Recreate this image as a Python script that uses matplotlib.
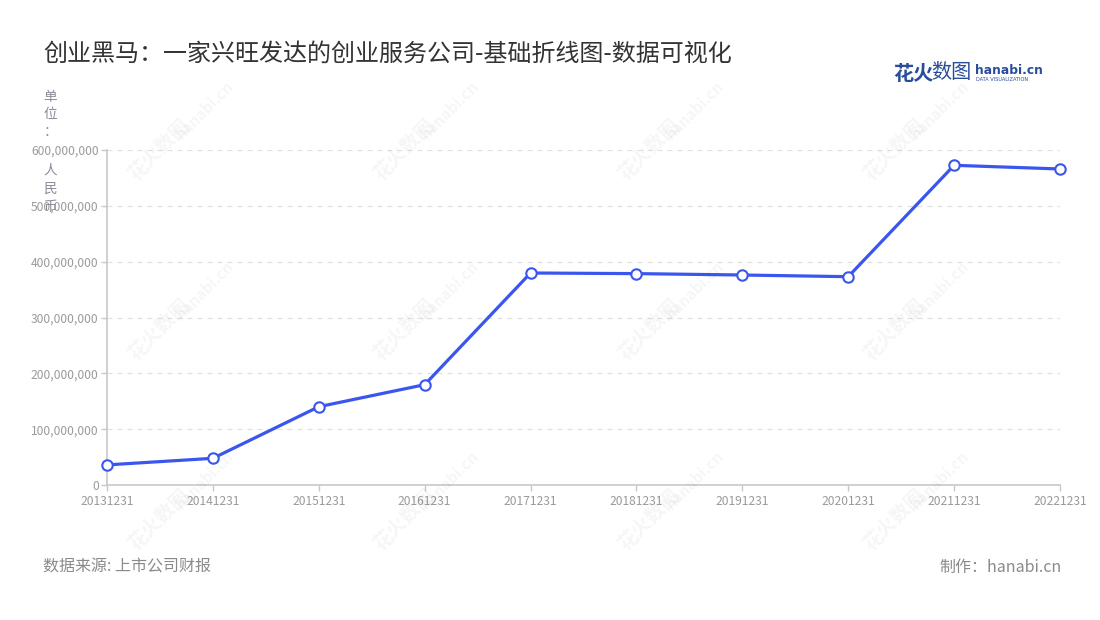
import matplotlib
matplotlib.use("Agg")
import matplotlib.pyplot as plt
from matplotlib.ticker import FuncFormatter, MultipleLocator

plt.rcParams['font.family'] = ['Noto Sans CJK SC', 'DejaVu Sans']

dates = ["20131231", "20141231", "20151231", "20161231", "20171231",
         "20181231", "20191231", "20201231", "20211231", "20221231"]
values = [36000000, 47800000, 140200000, 179700000, 379700000,
          378600000, 376100000, 373100000, 572600000, 566000000]

title = "创业黑马：一家兴旺发达的创业服务公司-基础折线图-数据可视化"
unit_label = "单位：人民币"
source = "数据来源: 上市公司财报"
maker = "制作：hanabi.cn"

W, H = 1100, 620
fig = plt.figure(figsize=(W / 100, H / 100), dpi=100)
ax = fig.add_axes([107 / W, 1 - 485 / H, (1060 - 107) / W, (485 - 150) / H])

x = list(range(len(dates)))
ax.plot(x, values, color="#3a56ef", lw=2.3, marker="o", markersize=7.5,
        markerfacecolor="white", markeredgecolor="#3a56ef", markeredgewidth=1.5,
        zorder=5, clip_on=False)

ax.set_xlim(0, len(dates) - 1)
ax.set_ylim(0, 600000000)
ax.yaxis.set_major_locator(MultipleLocator(100000000))
ax.yaxis.set_major_formatter(FuncFormatter(lambda v, p: f"{int(v):,}"))
ax.set_xticks(x)
ax.set_xticklabels(dates)

for s in ["top", "right"]:
    ax.spines[s].set_visible(False)
for s in ["left", "bottom"]:
    ax.spines[s].set_color("#c8c8c8")
    ax.spines[s].set_linewidth(1.2)

ax.tick_params(axis="both", colors="#c8c8c8", labelcolor="#9a9a9a",
               labelsize=8.7, length=4, width=1)
ax.tick_params(axis="x", pad=3)
ax.tick_params(axis="y", pad=2)
ax.grid(axis="y", color="#e0e0e0", linestyle=(0, (4, 4)), linewidth=0.9)
ax.set_axisbelow(True)

# watermarks
for wx in [160, 405, 650, 895]:
    for wy in [150, 330, 520]:
        fig.text(wx / W, 1 - wy / H, "花火数图", rotation=45, fontsize=14,
                 color="#000000", alpha=0.04, ha="center", va="center",
                 fontweight="bold")
        fig.text((wx + 45) / W, 1 - (wy - 40) / H, "hanabi.cn", rotation=45,
                 fontsize=11, color="#000000", alpha=0.04, ha="center",
                 va="center", fontweight="bold")

fig.text(43 / W, 1 - 54 / H, title, fontsize=17.3, color="#333333",
         ha="left", va="center")

# vertical unit label, one character per line
unit_y = [97, 114, 132, 170, 189, 207]
for ch, yy in zip(unit_label, unit_y):
    fig.text(50 / W, 1 - yy / H, ch, fontsize=9.8, color="#8a8a99",
             ha="center", va="center")

# logo
fig.text(893 / W, 1 - 73 / H, "花火", fontsize=14.5, color="#2a4d9b",
         fontweight="bold", ha="left", va="center")
fig.text(931 / W, 1 - 73 / H, "数图", fontsize=14.5, color="#2a4d9b",
         ha="left", va="center")
fig.text(975 / W, 1 - 70 / H, "hanabi.cn", fontsize=8.8, color="#2a4d9b",
         fontweight="bold", ha="left", va="center", family=["DejaVu Sans"])
fig.text(976 / W, 1 - 79.5 / H, "DATA VISUALIZATION", fontsize=3.6,
         color="#2a4d9b", ha="left", va="center", family=["DejaVu Sans"])

fig.text(43 / W, 1 - 567 / H, source, fontsize=11.5, color="#8a8a8a",
         ha="left", va="center")
fig.text(1062 / W, 1 - 567 / H, maker, fontsize=11.5, color="#8a8a8a",
         ha="right", va="center")

fig.savefig("out.png", dpi=100, facecolor="white")
